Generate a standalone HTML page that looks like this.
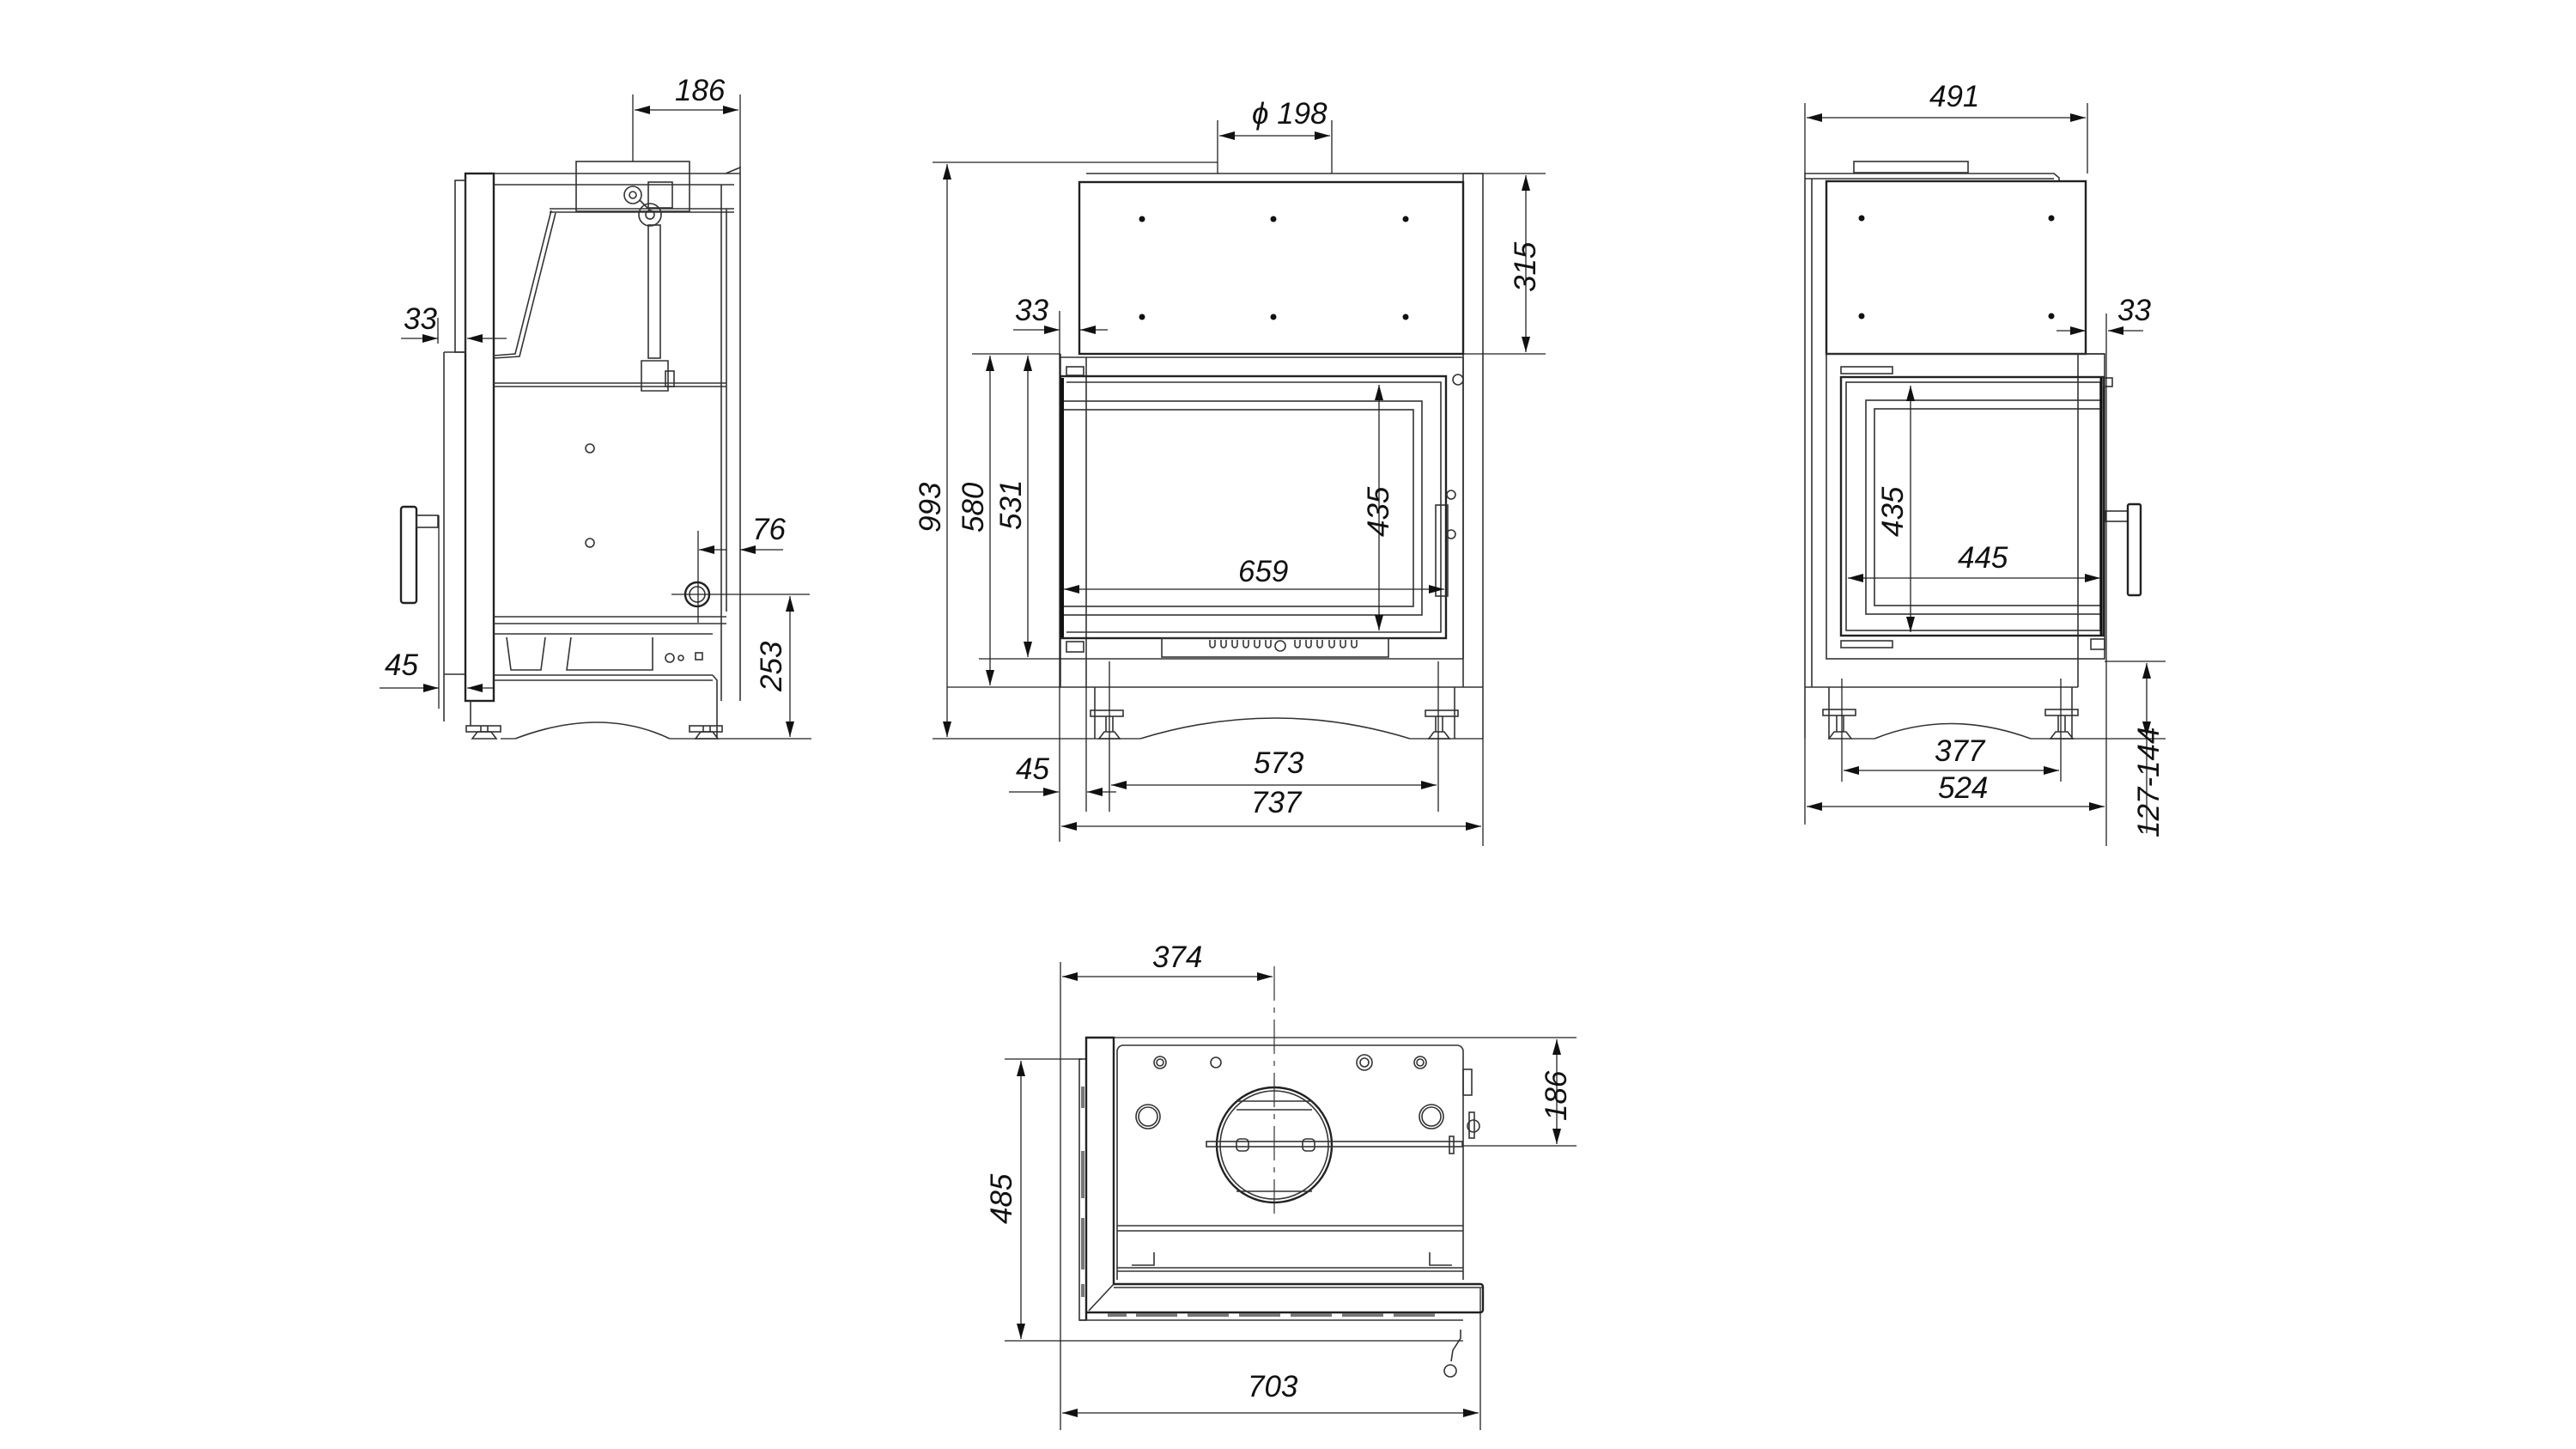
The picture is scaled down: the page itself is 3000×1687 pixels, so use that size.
<!DOCTYPE html>
<html><head><meta charset="utf-8"><style>
html,body{margin:0;padding:0;background:#fff}
svg{display:block}
text{font-family:"Liberation Sans",sans-serif;font-style:italic;font-size:35px;fill:#111}
.l{stroke:#333;stroke-width:1.6;fill:none}
.t{stroke:#222;stroke-width:2.4;fill:none}
.d{stroke:#222;stroke-width:1.3;fill:none}
.da{stroke:#222;stroke-width:1.3;fill:none;marker-start:url(#a);marker-end:url(#a)}
.de{stroke:#222;stroke-width:1.3;fill:none;marker-end:url(#a)}
.cl{stroke:#333;stroke-width:1.2;fill:none;stroke-dasharray:40 8 6 8}
</style></head><body>
<svg width="3000" height="1687" viewBox="0 0 3000 1687" xmlns="http://www.w3.org/2000/svg">
<defs><marker id="a" markerUnits="userSpaceOnUse" markerWidth="20" markerHeight="10" refX="18" refY="5" orient="auto-start-reverse"><path d="M0,0 L18,5 L0,10 z" fill="#111"/></marker></defs>

<!-- ================= LEFT SIDE VIEW ================= -->
<g>
<rect class="t" x="542" y="202" width="33" height="614"/>
<rect class="l" x="530" y="210" width="12" height="200"/>
<line class="l" x1="517" y1="410" x2="542" y2="410"/>
<line class="l" x1="517" y1="410" x2="517" y2="840"/>
<line class="l" x1="517" y1="785" x2="542" y2="785"/>
<line class="l" x1="575" y1="202" x2="862" y2="202"/>
<line class="l" x1="575" y1="215" x2="855" y2="215"/>
<polyline class="l" points="845,202 862,195 862,816"/>
<line class="l" x1="840" y1="215" x2="840" y2="816"/>
<line class="l" x1="846" y1="243" x2="846" y2="712"/>
<rect class="l" x="671" y="188" width="132" height="58" fill="#fff"/>
<rect class="l" x="755" y="212" width="28" height="30"/>
<line class="l" x1="640" y1="243" x2="855" y2="243"/>
<line class="l" x1="640" y1="247" x2="855" y2="247"/>
<polyline class="l" points="642,245 600,412 575,414"/>
<polyline class="l" points="647,248 605,415 575,417"/>
<circle class="l" cx="737" cy="227" r="10"/><circle class="l" cx="737" cy="227" r="4"/>
<circle class="l" cx="757" cy="250" r="13"/><circle class="l" cx="757" cy="250" r="5"/>
<line class="l" x1="745" y1="233" x2="757" y2="245"/>
<rect class="l" x="755" y="262" width="14" height="155"/>
<path class="l" d="M747,420 L778,420 L778,455 L747,455 Z"/>
<rect class="l" x="775" y="432" width="10" height="18"/>
<line class="l" x1="575" y1="446" x2="846" y2="446"/>
<line class="l" x1="575" y1="450" x2="846" y2="450"/>
<circle class="l" cx="687" cy="522" r="5"/><circle class="l" cx="687" cy="632" r="5"/>
<line class="l" x1="575" y1="718" x2="846" y2="718"/>
<line class="l" x1="575" y1="726" x2="846" y2="726"/>
<line class="l" x1="575" y1="738" x2="830" y2="738"/>
<polyline class="l" points="590,742 595,780 630,780 635,742"/>
<polyline class="l" points="665,742 660,780 760,780 760,742"/>
<line class="l" x1="575" y1="786" x2="830" y2="786"/>
<line class="l" x1="575" y1="792" x2="830" y2="792"/>
<polyline class="l" points="830,786 835,792 835,858"/>
<circle class="l" cx="780" cy="766" r="5"/><circle class="l" cx="793" cy="766" r="3"/><rect class="l" x="810" y="760" width="8" height="8"/>
<circle class="t" cx="812" cy="692" r="14"/><circle class="l" cx="812" cy="692" r="9"/>
<rect class="t" x="467" y="590" width="18" height="112" rx="3"/>
<rect class="l" x="485" y="600" width="25" height="14"/>
<rect class="l" x="543" y="845" width="40" height="7"/><rect class="l" x="803" y="845" width="38" height="7"/>
<path class="l" d="M550,860 L556,852 L572,852 L578,860 Z M560,852 V845 M568,852 V845"/>
<path class="l" d="M810,860 L816,852 L830,852 L836,860 Z M819,852 V845 M827,852 V845"/>
<line class="l" x1="548" y1="816" x2="548" y2="845"/>
<path class="l" d="M600,860 Q700,822 780,860"/>
<line class="d" x1="583" y1="860" x2="600" y2="860"/><line class="d" x1="780" y1="860" x2="945" y2="860"/>
<line class="d" x1="737" y1="188" x2="737" y2="110"/><line class="d" x1="862" y1="195" x2="862" y2="110"/>
<line class="da" x1="739" y1="128" x2="860" y2="128"/><text x="786" y="117">186</text>
<line class="d" x1="510" y1="370" x2="510" y2="400"/>
<line class="de" x1="467" y1="394" x2="510" y2="394"/><line class="de" x1="590" y1="394" x2="544" y2="394"/>
<text x="470" y="383">33</text>
<line class="d" x1="511" y1="600" x2="511" y2="825"/>
<line class="de" x1="442" y1="801" x2="511" y2="801"/><line class="de" x1="575" y1="801" x2="544" y2="801"/>
<text x="448" y="786">45</text>
<line class="d" x1="813" y1="618" x2="813" y2="725"/>
<line class="de" x1="846" y1="640" x2="814" y2="640"/><line class="de" x1="912" y1="640" x2="862" y2="640"/>
<text x="876" y="628">76</text>
<line class="d" x1="782" y1="692" x2="943" y2="692"/>
<line class="da" x1="920" y1="694" x2="920" y2="858"/>
<text transform="translate(910,805) rotate(-90)">253</text>
</g>

<!-- ================= FRONT VIEW ================= -->
<g>
<line class="l" x1="1265" y1="202" x2="1727" y2="202"/>
<line class="l" x1="1727" y1="202" x2="1727" y2="860"/>
<line class="l" x1="1704" y1="202" x2="1704" y2="800"/>
<rect class="t" x="1257" y="212" width="447" height="200"/>
<g fill="#111"><circle cx="1330" cy="255" r="3.5"/><circle cx="1483" cy="255" r="3.5"/><circle cx="1637" cy="255" r="3.5"/><circle cx="1330" cy="369" r="3.5"/><circle cx="1483" cy="369" r="3.5"/><circle cx="1637" cy="369" r="3.5"/></g>
<line class="l" x1="1235" y1="416" x2="1704" y2="416"/>
<line class="l" x1="1235" y1="412" x2="1235" y2="800"/>
<line class="l" x1="1265" y1="416" x2="1265" y2="800"/>
<line class="l" x1="1235" y1="767" x2="1704" y2="767"/>
<line class="l" x1="1704" y1="416" x2="1704" y2="767"/>
<rect class="l" x="1242" y="427" width="20" height="10"/>
<rect class="t" x="1235" y="438" width="449" height="305"/>
<polyline class="l" points="1242,445 1678,445 1678,736 1242,736"/>
<rect class="l" x="1237" y="467" width="419" height="249"/>
<rect class="l" x="1237" y="477" width="409" height="229"/>
<line x1="1237" y1="440" x2="1237" y2="742" stroke="#111" stroke-width="4"/>
<circle class="l" cx="1698" cy="442" r="6"/>
<rect class="l" x="1672" y="588" width="14" height="106"/>
<circle class="l" cx="1690" cy="576" r="5"/><circle class="l" cx="1690" cy="622" r="5"/>
<rect class="l" x="1353" y="743" width="264" height="22"/>
<g class="l"><path d="M1409,745 v6 a3,3 0 0 0 6,0 v-6 M1422,745 v6 a3,3 0 0 0 6,0 v-6 M1435,745 v6 a3,3 0 0 0 6,0 v-6 M1448,745 v6 a3,3 0 0 0 6,0 v-6 M1461,745 v6 a3,3 0 0 0 6,0 v-6 M1474,745 v6 a3,3 0 0 0 6,0 v-6 M1508,745 v6 a3,3 0 0 0 6,0 v-6 M1521,745 v6 a3,3 0 0 0 6,0 v-6 M1534,745 v6 a3,3 0 0 0 6,0 v-6 M1548,745 v6 a3,3 0 0 0 6,0 v-6 M1561,745 v6 a3,3 0 0 0 6,0 v-6 M1574,745 v6 a3,3 0 0 0 6,0 v-6"/></g>
<circle class="l" cx="1491" cy="752" r="6"/>
<rect class="l" x="1242" y="747" width="20" height="12"/>
<line class="l" x1="1235" y1="800" x2="1727" y2="800"/>
<line class="l" x1="1275" y1="800" x2="1275" y2="860"/><line class="l" x1="1694" y1="800" x2="1694" y2="860"/>
<rect class="l" x="1270" y="827" width="38" height="7"/><rect class="l" x="1660" y="827" width="38" height="7"/>
<path class="l" d="M1280,860 L1286,852 L1298,852 L1304,860 Z M1288,852 V834 M1296,852 V834"/>
<path class="l" d="M1664,860 L1670,852 L1682,852 L1688,860 Z M1672,852 V834 M1680,852 V834"/>
<path class="l" d="M1328,860 Q1485,812 1642,860"/>
<line class="d" x1="1086" y1="860" x2="1328" y2="860"/><line class="d" x1="1642" y1="860" x2="1727" y2="860"/>
<line class="d" x1="1086" y1="189" x2="1418" y2="189"/>
<line class="d" x1="1418" y1="140" x2="1418" y2="202"/><line class="d" x1="1551" y1="140" x2="1551" y2="202"/>
<line class="da" x1="1420" y1="158" x2="1549" y2="158"/><text x="1458" y="144">ϕ 198</text>
<line class="d" x1="1704" y1="202" x2="1800" y2="202"/><line class="d" x1="1704" y1="412" x2="1800" y2="412"/>
<line class="da" x1="1777" y1="204" x2="1777" y2="410"/>
<text transform="translate(1788,340) rotate(-90)">315</text>
<line class="d" x1="1234" y1="362" x2="1234" y2="980"/>
<line class="de" x1="1180" y1="384" x2="1234" y2="384"/><line class="de" x1="1290" y1="384" x2="1258" y2="384"/>
<text x="1182" y="373">33</text>
<line class="d" x1="1132" y1="412" x2="1235" y2="412"/>
<line class="d" x1="1140" y1="767" x2="1235" y2="767"/>
<line class="d" x1="1103" y1="800" x2="1235" y2="800"/>
<line class="da" x1="1103" y1="191" x2="1103" y2="858"/><text transform="translate(1095,620) rotate(-90)">993</text>
<line class="da" x1="1153" y1="414" x2="1153" y2="798"/><text transform="translate(1145,620) rotate(-90)">580</text>
<line class="da" x1="1197" y1="414" x2="1197" y2="765"/><text transform="translate(1189,617) rotate(-90)">531</text>
<line class="da" x1="1606" y1="448" x2="1606" y2="734"/><text transform="translate(1617,625) rotate(-90)">435</text>
<line class="da" x1="1239" y1="686" x2="1682" y2="686"/><text x="1442" y="677">659</text>
<line class="d" x1="1265" y1="800" x2="1265" y2="945"/>
<line class="d" x1="1292" y1="770" x2="1292" y2="945"/><line class="d" x1="1675" y1="770" x2="1675" y2="945"/>
<line class="d" x1="1727" y1="860" x2="1727" y2="985"/>
<line class="de" x1="1175" y1="922" x2="1233" y2="922"/><line class="de" x1="1300" y1="922" x2="1266" y2="922"/>
<text x="1183" y="907">45</text>
<line class="da" x1="1294" y1="914" x2="1673" y2="914"/><text x="1460" y="900">573</text>
<line class="da" x1="1236" y1="962" x2="1725" y2="962"/><text x="1457" y="946">737</text>
</g>

<!-- ================= RIGHT SIDE VIEW ================= -->
<g>
<rect class="l" x="2159" y="188" width="133" height="13"/>
<polyline class="l" points="2102,860 2102,202 2392,202 2398,207 2398,211"/>
<line class="l" x1="2102" y1="208" x2="2392" y2="208"/>
<line class="l" x1="2110" y1="208" x2="2110" y2="800"/>
<rect class="t" x="2127" y="211" width="302" height="201"/>
<g fill="#111"><circle cx="2168" cy="254" r="3.5"/><circle cx="2389" cy="254" r="3.5"/><circle cx="2168" cy="368" r="3.5"/><circle cx="2389" cy="368" r="3.5"/></g>
<rect class="l" x="2127" y="412" width="324" height="355"/>
<line class="l" x1="2420" y1="412" x2="2420" y2="800"/>
<line class="l" x1="2429" y1="412" x2="2451" y2="412"/>
<rect class="l" x="2144" y="427" width="60" height="8"/><rect class="l" x="2144" y="746" width="60" height="8"/>
<rect class="t" x="2144" y="439" width="306" height="301"/>
<rect class="l" x="2150" y="445" width="296" height="289"/>
<rect class="l" x="2173" y="466" width="274" height="249"/>
<rect class="l" x="2183" y="476" width="264" height="229"/>
<line x1="2447" y1="440" x2="2447" y2="740" stroke="#111" stroke-width="3"/>
<rect class="l" x="2450" y="440" width="10" height="10"/><rect class="l" x="2435" y="744" width="16" height="12"/>
<rect class="l" x="2452" y="595" width="26" height="12"/>
<rect class="t" x="2478" y="587" width="15" height="106" rx="2"/>
<line class="l" x1="2102" y1="800" x2="2420" y2="800"/>
<line class="l" x1="2130" y1="800" x2="2130" y2="860"/><line class="l" x1="2413" y1="800" x2="2413" y2="860"/>
<rect class="l" x="2123" y="826" width="38" height="7"/><rect class="l" x="2382" y="826" width="38" height="7"/>
<path class="l" d="M2130,860 L2136,852 L2150,852 L2156,860 Z M2139,852 V833 M2147,852 V833"/>
<path class="l" d="M2388,860 L2394,852 L2408,852 L2414,860 Z M2397,852 V833 M2405,852 V833"/>
<path class="l" d="M2183,860 Q2270,825 2365,860"/>
<line class="d" x1="2156" y1="860" x2="2183" y2="860"/><line class="d" x1="2365" y1="860" x2="2522" y2="860"/>
<line class="d" x1="2102" y1="120" x2="2102" y2="202"/><line class="d" x1="2431" y1="120" x2="2431" y2="202"/>
<line class="da" x1="2104" y1="137" x2="2429" y2="137"/><text x="2247" y="124">491</text>
<line class="d" x1="2453" y1="365" x2="2453" y2="985"/>
<line class="de" x1="2395" y1="385" x2="2429" y2="385"/><line class="de" x1="2496" y1="385" x2="2455" y2="385"/>
<text x="2466" y="373">33</text>
<line class="da" x1="2225" y1="449" x2="2225" y2="736"/><text transform="translate(2216,625) rotate(-90)">435</text>
<line class="da" x1="2152" y1="673" x2="2446" y2="673"/><text x="2280" y="661">445</text>
<line class="d" x1="2451" y1="770" x2="2522" y2="770"/>
<line class="da" x1="2500" y1="772" x2="2500" y2="858"/>
<line class="d" x1="2500" y1="860" x2="2500" y2="970"/>
<text transform="translate(2514,975) rotate(-90)">127-144</text>
<line class="d" x1="2145" y1="790" x2="2145" y2="910"/><line class="d" x1="2400" y1="790" x2="2400" y2="910"/>
<line class="da" x1="2147" y1="897" x2="2398" y2="897"/><text x="2253" y="886">377</text>
<line class="d" x1="2102" y1="860" x2="2102" y2="960"/>
<line class="da" x1="2104" y1="939" x2="2451" y2="939"/><text x="2257" y="929">524</text>
</g>

<!-- ================= TOP VIEW ================= -->
<g>
<rect class="l" x="1257" y="1233" width="8" height="304"/>
<g fill="#777"><rect x="1259" y="1265" width="4" height="25"/><rect x="1259" y="1340" width="4" height="55"/><rect x="1259" y="1418" width="4" height="60"/><rect x="1259" y="1495" width="4" height="15"/></g>
<polyline class="t" points="1265,1537 1265,1208 1297,1208 1297,1495"/>
<line class="l" x1="1297" y1="1495" x2="1268" y2="1526"/>
<path class="l" d="M1301,1490 V1224 a7,7 0 0 1 7,-7 H1697 a7,7 0 0 1 7,7 V1490"/>
<rect class="l" x="1704" y="1245" width="10" height="30"/>
<line class="l" x1="1301" y1="1427" x2="1704" y2="1427"/><line class="l" x1="1301" y1="1433" x2="1704" y2="1433"/>
<line class="l" x1="1301" y1="1476" x2="1704" y2="1476"/><line class="l" x1="1301" y1="1480" x2="1704" y2="1480"/>
<polyline class="l" points="1318,1473 1344,1473 1344,1458"/><polyline class="l" points="1665,1458 1665,1473 1691,1473"/>
<path class="t" d="M1297,1495 H1724 a3,3 0 0 1 3,3 V1525 a3,3 0 0 1 -3,3 H1265"/>
<line class="l" x1="1297" y1="1499" x2="1727" y2="1499"/>
<line class="l" x1="1257" y1="1537" x2="1704" y2="1537"/>
<g fill="#777"><rect x="1290" y="1529" width="22" height="4"/><rect x="1323" y="1529" width="48" height="4"/><rect x="1383" y="1529" width="48" height="4"/><rect x="1443" y="1529" width="48" height="4"/><rect x="1503" y="1529" width="48" height="4"/><rect x="1563" y="1529" width="48" height="4"/><rect x="1623" y="1529" width="48" height="4"/></g>
<circle class="l" cx="1351" cy="1237" r="7"/><circle class="l" cx="1351" cy="1237" r="4"/>
<circle class="l" cx="1416" cy="1237" r="6"/>
<circle class="l" cx="1589" cy="1237" r="9"/><circle class="l" cx="1589" cy="1237" r="5"/>
<circle class="l" cx="1654" cy="1237" r="7"/><circle class="l" cx="1654" cy="1237" r="4"/>
<circle class="l" cx="1337" cy="1300" r="14"/><circle class="l" cx="1337" cy="1300" r="11"/>
<circle class="l" cx="1667" cy="1300" r="14"/><circle class="l" cx="1667" cy="1300" r="11"/>
<circle class="t" cx="1484" cy="1333" r="67"/><circle class="l" cx="1484" cy="1333" r="63"/>
<line class="l" x1="1440" y1="1282" x2="1528" y2="1282"/><line class="l" x1="1440" y1="1292" x2="1528" y2="1292"/>
<line class="l" x1="1440" y1="1387" x2="1528" y2="1387"/>
<rect class="l" x="1405" y="1329" width="298" height="6"/>
<rect class="l" x="1440" y="1326" width="14" height="14" rx="4"/><rect class="l" x="1517" y="1326" width="14" height="14" rx="4"/>
<rect class="l" x="1688" y="1323" width="5" height="20"/>
<circle class="l" cx="1716" cy="1311" r="7"/><rect class="l" x="1711" y="1295" width="6" height="30"/>
<line class="cl" x1="1484" y1="1125" x2="1484" y2="1413"/>
<polyline class="l" points="1701,1548 1701,1558 1692,1572 1690,1585"/>
<circle class="l" cx="1689" cy="1596" r="7"/>
<line class="d" x1="1235" y1="1120" x2="1235" y2="1665"/>
<line class="da" x1="1237" y1="1137" x2="1482" y2="1137"/><text x="1342" y="1126">374</text>
<line class="d" x1="1297" y1="1208" x2="1836" y2="1208"/>
<line class="d" x1="1704" y1="1334" x2="1836" y2="1334"/>
<line class="da" x1="1813" y1="1210" x2="1813" y2="1332"/><text transform="translate(1824,1305) rotate(-90)">186</text>
<line class="d" x1="1170" y1="1233" x2="1260" y2="1233"/>
<line class="d" x1="1170" y1="1561" x2="1704" y2="1561"/>
<line class="da" x1="1189" y1="1235" x2="1189" y2="1559"/><text transform="translate(1178,1425) rotate(-90)">485</text>
<line class="d" x1="1724" y1="1500" x2="1724" y2="1665"/>
<line class="da" x1="1237" y1="1645" x2="1722" y2="1645"/><text x="1453" y="1626">703</text>
</g>
</svg>
</body></html>
